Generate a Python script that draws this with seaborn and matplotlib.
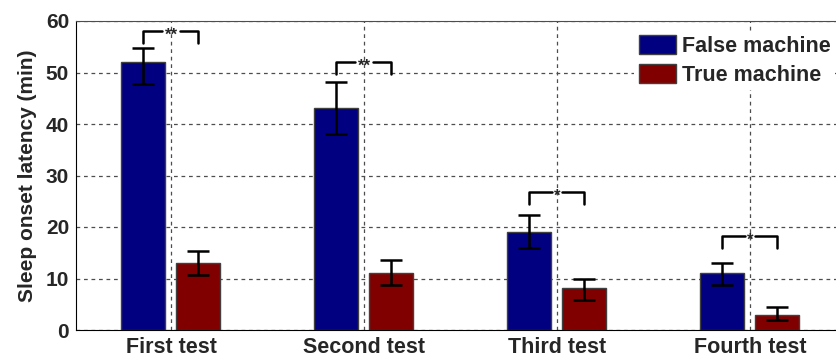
import numpy as np
import pandas as pd
import seaborn as sns
import matplotlib.pyplot as plt

# valeurs
tests = ["First test", "Second test", "Third test", "Fourth test"]
false_mean = [52.0, 43.1, 19.1, 11.1]
false_low = [47.8, 38.1, 15.9, 8.8]
false_high = [54.7, 48.1, 22.4, 13.1]
true_mean = [13.0, 11.1, 8.1, 3.0]
true_low = [10.6, 8.8, 5.9, 1.9]
true_high = [15.3, 13.5, 9.9, 4.4]
sig_labels = ["**", "**", "*", "*"]
sig_height = [58.0, 52.0, 26.7, 18.2]

df = pd.DataFrame({
    "test": tests * 2,
    "machine": ["False machine"] * 4 + ["True machine"] * 4,
    "latency": false_mean + true_mean,
})

sns.set_style("white")
plt.rcParams['font.family'] = ['Liberation Sans', 'DejaVu Sans']
plt.rcParams['font.weight'] = 'bold'

fig = plt.figure(figsize=(8.37, 3.59), dpi=100)
ax = fig.add_axes([76 / 837, 29 / 359, 1 - 76 / 837, 309 / 359])

sns.barplot(data=df, x="test", y="latency", hue="machine",
            palette={"False machine": "#000080", "True machine": "#800000"},
            saturation=1, width=0.57, gap=0.2, edgecolor="0.25", linewidth=1,
            errorbar=None, ax=ax)

# barres d'erreur asymétriques
for cont, m, lo, hi in zip(ax.containers, [false_mean, true_mean],
                           [false_low, true_low], [false_high, true_high]):
    xs = [p.get_x() + p.get_width() / 2 for p in cont]
    m = np.array(m)
    yerr = [m - np.array(lo), np.array(hi) - m]
    ax.errorbar(xs, m, yerr=yerr, fmt='none', ecolor='k', elinewidth=1.8,
                capsize=8, capthick=1.8, zorder=4)

# crochets de significativité
blue = ax.containers[0]
red = ax.containers[1]
for i in range(4):
    xl = blue[i].get_x() + blue[i].get_width() / 2
    xr = red[i].get_x() + red[i].get_width() / 2
    mid = (xl + xr) / 2
    top = sig_height[i]
    g = 0.045 if len(sig_labels[i]) == 2 else 0.025
    ax.plot([xl, xl, mid - g], [top - 2.3, top, top], color='k', lw=1.8, zorder=5)
    ax.plot([mid + g, xr, xr], [top, top, top - 2.3], color='k', lw=1.8, zorder=5)
    ax.text(mid, top - 0.8, sig_labels[i], ha='center', va='center', fontsize=12, zorder=5)

ax.set_ylim(0, 60)
ax.set_xlim(-0.492, 3.451)
ax.set_yticks(range(0, 61, 10))
ax.set_xlabel("")
ax.set_ylabel("Sleep onset latency (min)", fontsize=15, fontweight='bold', labelpad=6)
ax.tick_params(axis='y', labelsize=15, length=0, pad=5)
ax.tick_params(axis='x', labelsize=15.5, length=0, pad=5)

ax.grid(True, color='0.3', linestyle=(0, (3, 3)), linewidth=0.9)
ax.set_axisbelow(True)
for s in ['left', 'bottom']:
    ax.spines[s].set_color('k')
ax.spines['top'].set_color('0.3')
ax.spines['right'].set_visible(False)

handles, labels = ax.get_legend_handles_labels()
leg = ax.legend(handles, labels, loc='upper right', bbox_to_anchor=(1.0, 0.975),
                fontsize=15.5, frameon=True, framealpha=1, edgecolor='none',
                facecolor='white', handlelength=1.75, handleheight=1.0,
                handletextpad=0.25, labelspacing=0.3, borderpad=0.2,
                borderaxespad=0.1, fancybox=False)

fig.savefig("out.png", dpi=100)
